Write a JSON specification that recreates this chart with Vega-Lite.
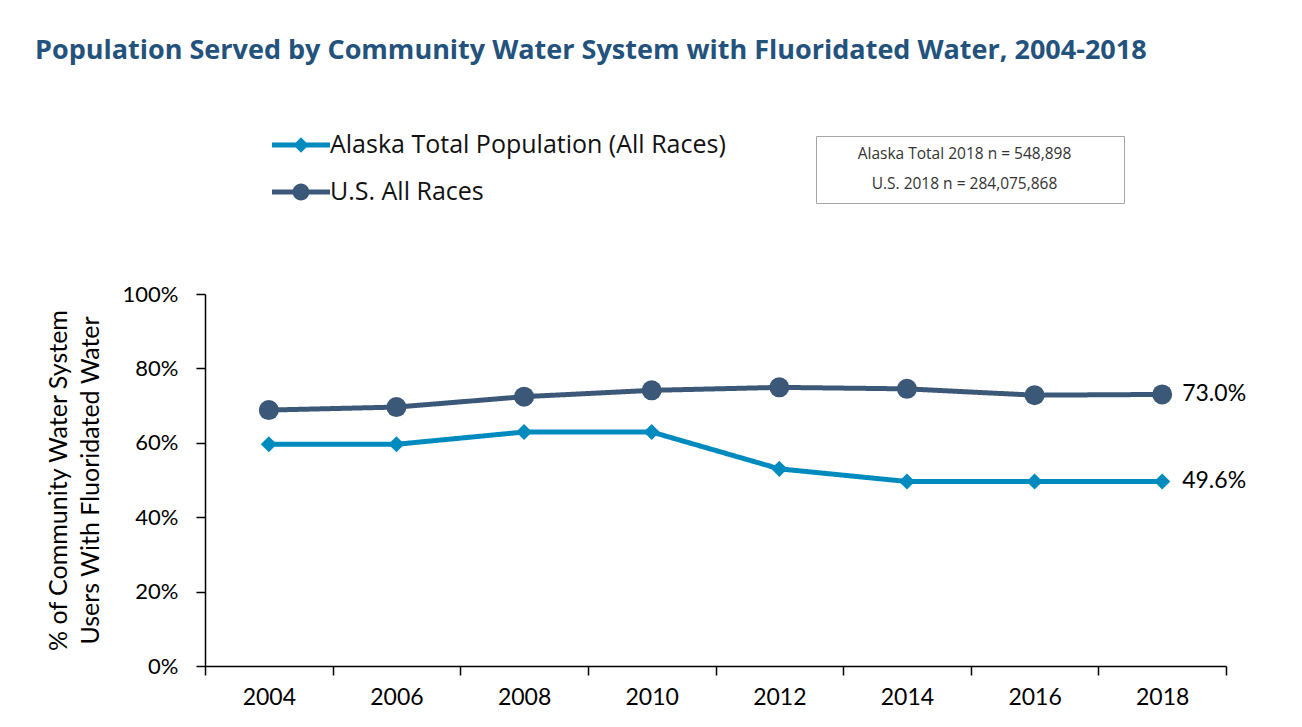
{
  "$schema": "https://vega.github.io/schema/vega-lite/v6.json",
  "autosize": {"type": "none"},
  "padding": {"left": 205, "top": 294, "right": 76, "bottom": 61},
  "width": 1021,
  "height": 372,
  "background": "white",
  "title": {
    "text": "Population Served by Community Water System with Fluoridated Water, 2004-2018",
    "anchor": "start",
    "frame": "group",
    "dx": -170,
    "offset": 56,
    "font": "Open Sans",
    "fontSize": 27,
    "fontWeight": "bold",
    "color": "#23527c"
  },
  "data": {
    "values": [
      {"year": "2004", "series": "Alaska Total Population (All Races)", "value": 0.596, "note": "Alaska Total 2018 n = 548,898"},
      {"year": "2006", "series": "Alaska Total Population (All Races)", "value": 0.596, "note": "Alaska Total 2018 n = 548,898"},
      {"year": "2008", "series": "Alaska Total Population (All Races)", "value": 0.629, "note": "Alaska Total 2018 n = 548,898"},
      {"year": "2010", "series": "Alaska Total Population (All Races)", "value": 0.629, "note": "Alaska Total 2018 n = 548,898"},
      {"year": "2012", "series": "Alaska Total Population (All Races)", "value": 0.530, "note": "Alaska Total 2018 n = 548,898"},
      {"year": "2014", "series": "Alaska Total Population (All Races)", "value": 0.496, "note": "Alaska Total 2018 n = 548,898"},
      {"year": "2016", "series": "Alaska Total Population (All Races)", "value": 0.496, "note": "Alaska Total 2018 n = 548,898"},
      {"year": "2018", "series": "Alaska Total Population (All Races)", "value": 0.496, "note": "Alaska Total 2018 n = 548,898"},
      {"year": "2004", "series": "U.S. All Races", "value": 0.688, "note": "U.S. 2018 n = 284,075,868"},
      {"year": "2006", "series": "U.S. All Races", "value": 0.696, "note": "U.S. 2018 n = 284,075,868"},
      {"year": "2008", "series": "U.S. All Races", "value": 0.724, "note": "U.S. 2018 n = 284,075,868"},
      {"year": "2010", "series": "U.S. All Races", "value": 0.741, "note": "U.S. 2018 n = 284,075,868"},
      {"year": "2012", "series": "U.S. All Races", "value": 0.749, "note": "U.S. 2018 n = 284,075,868"},
      {"year": "2014", "series": "U.S. All Races", "value": 0.745, "note": "U.S. 2018 n = 284,075,868"},
      {"year": "2016", "series": "U.S. All Races", "value": 0.728, "note": "U.S. 2018 n = 284,075,868"},
      {"year": "2018", "series": "U.S. All Races", "value": 0.730, "note": "U.S. 2018 n = 284,075,868"}
    ]
  },
  "encoding": {
    "x": {
      "field": "year", "type": "ordinal",
      "scale": {"type": "band", "paddingInner": 0, "paddingOuter": 0},
      "axis": {
        "title": null, "labelAngle": 0, "tickBand": "extent",
        "domainColor": "black", "domainWidth": 1.5, "tickColor": "black", "tickWidth": 1.5, "tickSize": 9,
        "labelFont": "Lato", "labelFontSize": 23, "labelColor": "black", "labelPadding": 11, "grid": false
      }
    },
    "y": {
      "field": "value", "type": "quantitative",
      "scale": {"domain": [0, 1], "nice": false},
      "axis": {
        "values": [0, 0.2, 0.4, 0.6, 0.8, 1], "format": ".0%", "grid": false,
        "title": ["% of Community Water System", "Users With Fluoridated Water"],
        "titleFont": "Lato", "titleFontSize": 25, "titleFontWeight": "normal", "titleColor": "black",
        "titleLineHeight": 32, "titlePadding": 19,
        "domainColor": "black", "domainWidth": 1.5, "tickColor": "black", "tickWidth": 1.5, "tickSize": 9,
        "labelFont": "Lato", "labelFontSize": 22, "labelColor": "black", "labelPadding": 18
      }
    },
    "color": {
      "field": "series", "type": "nominal",
      "scale": {"domain": ["Alaska Total Population (All Races)", "U.S. All Races"], "range": ["#008bbf", "#3c5878"]},
      "legend": {
        "orient": "none", "legendX": 72, "legendY": -173, "title": null, "padding": 0, "rowPadding": 10,
        "symbolSize": 2304, "labelFont": "Open Sans", "labelFontSize": 25, "labelColor": "#111111", "labelOffset": 5, "labelLimit": 600,
        "encode": {
          "symbols": {
            "update": {
              "shape": {"signal": "datum.value === 'U.S. All Races' ? 'M-1.21,-0.1L1.21,-0.1L1.21,0.1L-1.21,0.1Z M-0.35,0A0.35,0.35 0 1,1 0.35,0A0.35,0.35 0 1,1 -0.35,0Z' : 'M-1.21,-0.1L1.21,-0.1L1.21,0.1L-1.21,0.1Z M0,-0.32L0.32,0L0,0.32L-0.32,0Z'"},
              "size": {"value": 2304},
              "fill": {"signal": "datum.value === 'U.S. All Races' ? '#3c5878' : '#008bbf'"},
              "stroke": {"value": "transparent"},
              "strokeWidth": {"value": 0},
              "opacity": {"value": 1},
              "fillOpacity": {"value": 1}
            }
          }
        }
      }
    }
  },
  "layer": [
    {
      "mark": {"type": "line", "strokeWidth": 5},
      "encoding": {
        "strokeDash": {
          "field": "note", "type": "nominal",
          "scale": {"domain": ["Alaska Total 2018 n = 548,898", "U.S. 2018 n = 284,075,868"], "range": [[1, 0], [1, 0]]},
          "legend": {
            "orient": "none", "legendX": 611, "legendY": -158, "title": null, "padding": 10, "rowPadding": 13,
            "strokeColor": "#a6a6a6", "fillColor": "white",
            "symbolSize": 16, "symbolOffset": 0, "symbolOpacity": 0,
            "symbolType": "M-1,-1L140,-1L140,1L-1,1Z",
            "symbolStrokeColor": "transparent", "symbolFillColor": "transparent",
            "labelAlign": "center", "labelOffset": 123,
            "labelFont": "Open Sans", "labelFontSize": 15.5, "labelColor": "#333333", "labelLimit": 400
          }
        }
      }
    },
    {
      "transform": [{"filter": "datum.series === 'Alaska Total Population (All Races)'"}],
      "mark": {"type": "point", "filled": true, "opacity": 1, "shape": "diamond", "size": 260},
      "encoding": {}
    },
    {
      "transform": [{"filter": "datum.series === 'U.S. All Races'"}],
      "mark": {"type": "point", "filled": true, "opacity": 1, "shape": "circle", "size": 400},
      "encoding": {}
    },
    {
      "transform": [{"filter": "datum.year === '2018'"}],
      "mark": {"type": "text", "align": "left", "baseline": "middle", "dx": 20, "font": "Lato", "fontSize": 23},
      "encoding": {
        "text": {"field": "value", "type": "quantitative", "format": ".1%"},
        "color": {"value": "black"}
      }
    }
  ],
  "config": {"view": {"stroke": null}}
}
